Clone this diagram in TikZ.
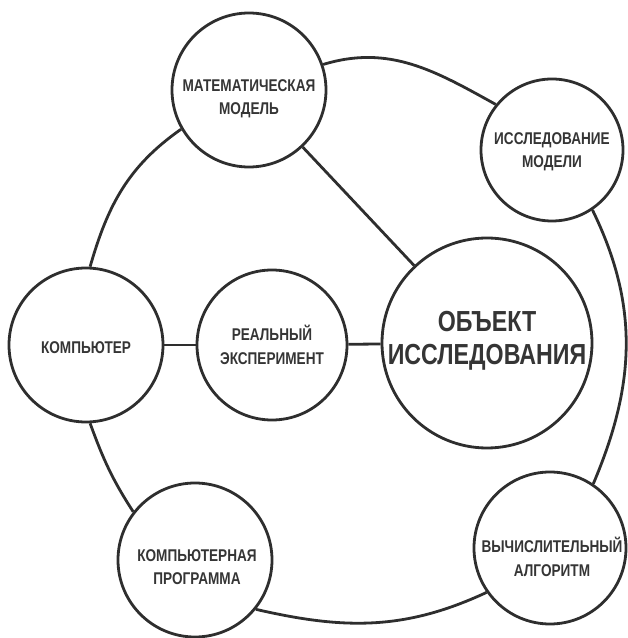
\documentclass[tikz,border=0pt]{standalone}
\usepackage{fontspec}
\newfontfamily\lbfont[FakeStretch=0.8]{Liberation Sans}
\definecolor{ink}{HTML}{2E2E2E}
\definecolor{txt}{HTML}{353535}
\tikzset{
  ringnode/.style={circle, draw=ink, line width=2.8pt, fill=white, inner sep=0pt},
  smalllbl/.style={font=\lbfont\bfseries\fontsize{17}{23.5}\selectfont, text=txt, align=center, inner sep=0pt},
  biglbl/.style={font=\lbfont\bfseries\fontsize{29}{33}\selectfont, text=txt, align=center, inner sep=0pt},
  link/.style={draw=ink, line width=2.8pt}
}
\begin{document}
\begin{tikzpicture}[x=1pt,y=1pt]
\useasboundingbox (0,0) rectangle (628,638);
% circles
\node[ringnode, minimum size=154pt] (M) at (249,548) {};
\node[ringnode, minimum size=142pt] (I) at (552,488) {};
\node[ringnode, minimum size=154pt] (K) at (86,293) {};
\node[ringnode, minimum size=150pt] (R) at (272,293) {};
\node[ringnode, minimum size=210pt] (O) at (487,295) {};
\node[ringnode, minimum size=154pt] (P) at (195,78) {};
\node[ringnode, minimum size=152pt] (V) at (550,90) {};
% connectors
\draw[link] (K.87) to[out=74, in=215] (M.210);
\draw[link] (M.19) to[out=17, in=151] (I.141);
\draw[link] (I.-56) to[out=-64, in=67] (V.56);
\draw[link] (V.215) to[out=205, in=-13] (P.-39);
\draw[link] (P.142) to[out=123, in=290] (K.-87);
\draw[link] (M) -- (O);
\draw[link] (K) -- (R);
\draw[link] (R) -- (O);
% labels
\node[smalllbl] (tM) at ([yshift=-9pt]M.center) {МАТЕМАТИЧЕСКАЯ\\МОДЕЛЬ};
\node[smalllbl] (tI) at ([yshift=-2pt]I.center) {ИССЛЕДОВАНИЕ\\МОДЕЛИ};
\node[smalllbl] (tK) at ([yshift=-3pt]K.center) {КОМПЬЮТЕР};
\node[smalllbl] (tR) at (R.center) {РЕАЛЬНЫЙ\\ЭКСПЕРИМЕНТ};
\node[biglbl] (tO) at ([yshift=2pt]O.center) {ОБЪЕКТ\\ИССЛЕДОВАНИЯ};
\node[smalllbl] (tP) at ([xshift=2pt,yshift=-7pt]P.center) {КОМПЬЮТЕРНАЯ\\ПРОГРАММА};
\node[smalllbl] (tV) at ([xshift=2pt,yshift=-9pt]V.center) {ВЫЧИСЛИТЕЛЬНЫЙ\\АЛГОРИТМ};
\end{tikzpicture}
\end{document}
